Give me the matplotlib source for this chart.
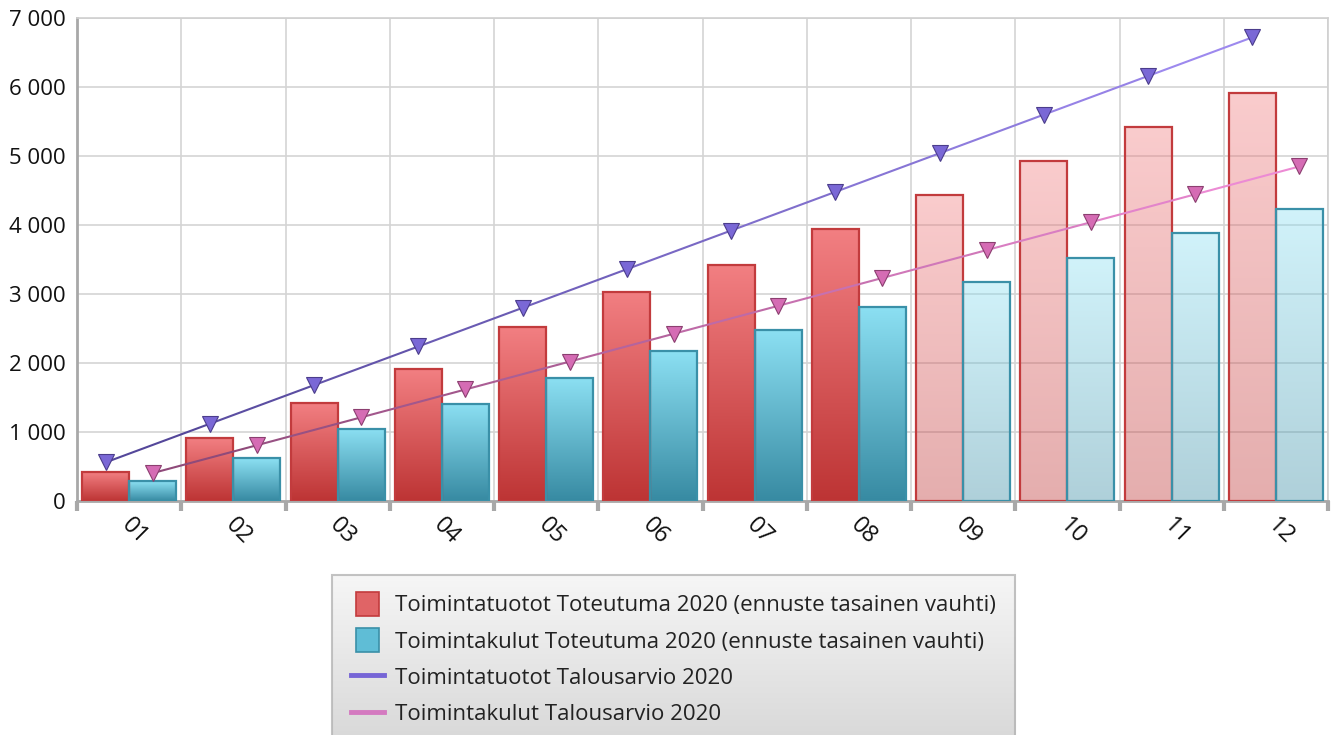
import numpy as np
import matplotlib
matplotlib.use("Agg")
import matplotlib.pyplot as plt
from matplotlib.colors import LinearSegmentedColormap, to_rgb
from matplotlib.collections import LineCollection
from matplotlib.patches import Patch, Rectangle
from matplotlib.lines import Line2D
from matplotlib.legend_handler import HandlerPatch
from matplotlib.ticker import FuncFormatter, FixedLocator

plt.rcParams['font.family'] = ['Open Sans', 'DejaVu Sans']

# data
months = ["01", "02", "03", "04", "05", "06", "07", "08", "09", "10", "11", "12"]
tuotot_toteutuma = [415, 910, 1420, 1910, 2520, 3030, 3420, 3940, 4430, 4930, 5420, 5910]
kulut_toteutuma = [285, 620, 1045, 1410, 1785, 2175, 2480, 2815, 3170, 3525, 3880, 4230]
tuotot_budjetti = [560, 1120, 1680, 2240, 2800, 3360, 3920, 4480, 5040, 5600, 6160, 6720]
kulut_budjetti = [404, 808, 1212, 1616, 2020, 2424, 2828, 3232, 3636, 4040, 4444, 4848]
n_actual = 8  # months 09-12 are forecast

labels = ["Toimintatuotot Toteutuma 2020 (ennuste tasainen vauhti)",
          "Toimintakulut Toteutuma 2020 (ennuste tasainen vauhti)",
          "Toimintatuotot Talousarvio 2020",
          "Toimintakulut Talousarvio 2020"]

fig = plt.figure(figsize=(13.38, 7.35), dpi=100)
ax = fig.add_axes([77 / 1338, 1 - 501 / 735, 1251 / 1338, 483 / 735])

x = np.arange(len(months))
w = 0.45
off = 0.225

red_cmap = LinearSegmentedColormap.from_list("red", ["#bd3434", "#f27f82"])
blue_cmap = LinearSegmentedColormap.from_list("blue", ["#378aa2", "#8ce0f3"])
grad = np.linspace(1, 0, 256).reshape(-1, 1)


def gradient_bars(bars, cmap, edge):
    for i, b in enumerate(bars):
        alpha = 1.0 if i < n_actual else 0.4
        b.set_facecolor("none")
        b.set_edgecolor(edge)
        b.set_linewidth(1.6)
        b.set_zorder(3)
        x0 = b.get_x()
        im = ax.imshow(grad, cmap=cmap, extent=[x0, x0 + b.get_width(), 0, b.get_height()],
                       aspect="auto", alpha=alpha, zorder=2, interpolation="bilinear")
        im.set_clip_path(b)


red_bars = ax.bar(x - off, tuotot_toteutuma, w)
blue_bars = ax.bar(x + off, kulut_toteutuma, w)
gradient_bars(red_bars, red_cmap, "#c23b3d")
gradient_bars(blue_bars, blue_cmap, "#3a90a8")


def gradient_line(xs, ys, c0, c1, mface, medge):
    pts = np.column_stack([xs, ys])
    segs = np.stack([pts[:-1], pts[1:]], axis=1)
    c0, c1 = np.array(to_rgb(c0)), np.array(to_rgb(c1))
    t = np.linspace(0, 1, len(segs))
    cols = [c0 + (c1 - c0) * k for k in t]
    ax.add_collection(LineCollection(segs, colors=cols, linewidths=1.5, zorder=4))
    ax.plot(xs, ys, linestyle="none", marker="v", markersize=12,
            markerfacecolor=mface, markeredgecolor=medge, markeredgewidth=0.8, zorder=5)


gradient_line(x - off, tuotot_budjetti, "#54479a", "#9d89ee", "#7a68d6", "#4b3d8c")
gradient_line(x + off, kulut_budjetti, "#8f4a7a", "#ec8bd4", "#d56cb4", "#8c3f70")

ax.set_xlim(-0.5, len(months) - 0.5)
ax.set_ylim(0, 7000)
ax.set_yticks(np.arange(0, 7001, 1000))
ax.yaxis.set_major_formatter(FuncFormatter(lambda v, p: f"{int(v):,}".replace(",", " ")))
ax.tick_params(axis="y", length=0, labelsize=16, pad=8, labelcolor="#111111")

ax.xaxis.set_major_locator(FixedLocator(np.arange(-0.5, len(months), 1.0)))
ax.xaxis.set_minor_locator(FixedLocator(x + 0.05))
ax.set_xticklabels([], minor=False)
ax.set_xticklabels(months, minor=True, rotation=-45, ha="center", va="top")
ax.tick_params(axis="x", which="major", length=7, width=3, color="#a8a8a8", direction="out")
ax.tick_params(axis="x", which="minor", length=0, labelsize=17, pad=9, labelcolor="#111111")

ax.grid(True, which="major", color="#d4d4d4", linewidth=1.2, zorder=0)
ax.set_axisbelow(True)
for s in ["left", "bottom"]:
    ax.spines[s].set_color("#a8a8a8")
    ax.spines[s].set_linewidth(2)
for s in ["top", "right"]:
    ax.spines[s].set_color("#d0d0d0")
    ax.spines[s].set_linewidth(1.2)


def square_patch(legend, orig_handle, xdescent, ydescent, width, height, fontsize):
    side = height * 1.2
    return Rectangle((-xdescent + (width - side * 0.95) / 2, -ydescent - 0.1 * height), side * 0.95, side)


handles = [Patch(facecolor="#e06466", edgecolor="#c23b3d", linewidth=1.2),
           Patch(facecolor="#5fbdd6", edgecolor="#3a90a8", linewidth=1.2),
           Line2D([], [], color="#7665d6", linewidth=3.5),
           Line2D([], [], color="#d47ac0", linewidth=3.5)]
leg = fig.legend(handles, labels, loc="upper left", bbox_to_anchor=(332 / 1338, 1 - 575 / 735),
                 fontsize=16, frameon=True, fancybox=False, labelspacing=0.62,
                 handlelength=1.5, handleheight=1.0, handletextpad=0.5, borderpad=0.85,
                 borderaxespad=0, handler_map={Patch: HandlerPatch(patch_func=square_patch)})
leg.get_frame().set_facecolor("none")
leg.get_frame().set_edgecolor("#b4b4b4")
leg.get_frame().set_linewidth(1.5)
for t in leg.get_texts():
    t.set_color("#222222")

# gradient background behind the legend
fig.canvas.draw()
bb = leg.get_window_extent().transformed(fig.transFigure.inverted())
bg = fig.add_axes([bb.x0, bb.y0, bb.width, bb.height], zorder=-1)
bg.imshow(np.linspace(0, 1, 64).reshape(-1, 1), cmap=LinearSegmentedColormap.from_list(
    "leg", ["#f6f6f6", "#d8d8d8"]), aspect="auto", extent=[0, 1, 0, 1])
bg.set_axis_off()

fig.savefig("out.png", dpi=100)
